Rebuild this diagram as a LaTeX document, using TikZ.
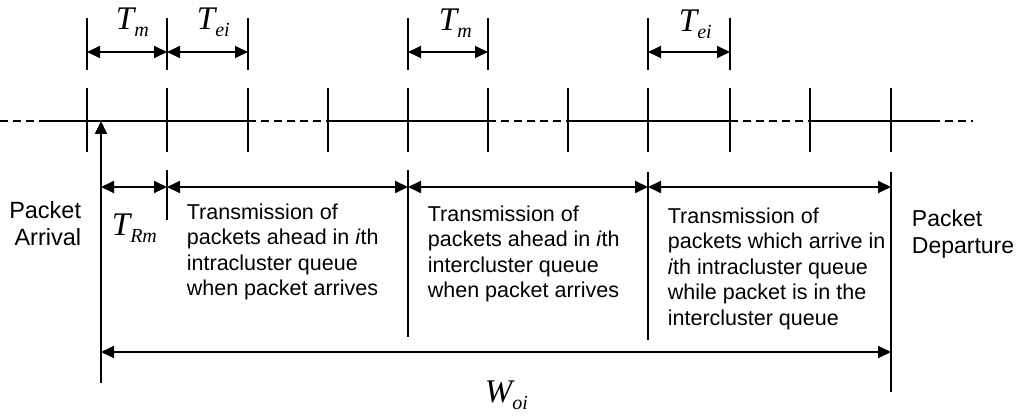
\documentclass[tikz,border=0pt]{standalone}
\usepackage{fontspec}
\setmainfont{Liberation Sans}
\newfontfamily\labfont{Liberation Serif}
\usetikzlibrary{arrows.meta}

\newcommand\dimlab[2]{{\labfont\itshape\fontsize{33}{33}\selectfont #1}\raisebox{-7pt}{\labfont\itshape\fontsize{20}{20}\selectfont #2}}

\begin{document}
\begin{tikzpicture}[x=1pt, y=-1pt,
  line width=1.8pt,
  dim/.style={{Triangle[length=13pt,width=12pt]}-{Triangle[length=13pt,width=12pt]}},
  dimr/.style={-{Triangle[length=13pt,width=12pt]}},
  gap/.style={dash pattern=on 8pt off 5pt},
  txt/.style={font=\fontsize{21.5}{25.5}\selectfont, align=left, anchor=north west, inner sep=0pt},
  lab/.style={anchor=base west, inner sep=0pt}
]
  \useasboundingbox (0,0) rectangle (1020,417);

  % time axis with its ticks
  \foreach \x [count=\i] in {87,167,248,328,408,488,568,648,730,810,891}
    \coordinate (t\i) at (\x,121);
  \coordinate (le) at (0,121);
  \coordinate (ls) at (45,121);
  \coordinate (rs) at (932,121);
  \coordinate (re) at (973,121);
  \draw[gap] (le) -- (ls);
  \draw (ls) -- (t3);
  \draw[gap] (t3) -- (t4);
  \draw (t4) -- (t6);
  \draw[gap] (t6) -- (t7);
  \draw (t7) -- (t9);
  \draw[gap] (t9) -- (t10);
  \draw (t10) -- (rs);
  \draw[gap] (rs) -- (re);
  \foreach \i in {1,...,11}
    \draw ([yshift=33pt]t\i) -- ([yshift=-31pt]t\i);

  % slot widths above the axis
  \coordinate (top) at (0,52);
  \foreach \i in {1,2,3,5,6,8,9}
    \draw (t\i |- 0,18) -- (t\i |- 0,70);
  \draw[dim] (t1 |- top) -- (t2 |- top);
  \draw[dim] (t2 |- top) -- (t3 |- top);
  \draw[dim] (t5 |- top) -- (t6 |- top);
  \draw[dim] (t8 |- top) -- (t9 |- top);
  \node[lab] (tm1) at (115,30) {\dimlab{T}{m}};
  \node[lab] (tei1) at (196,30) {\dimlab{T}{ei}};
  \node[lab] (tm2) at (438,31) {\dimlab{T}{m}};
  \node[lab] (tei2) at (678,32) {\dimlab{T}{ei}};

  % arrival and waiting time below the axis
  \coordinate (arr) at (101,121);
  \coordinate (arrb) at (101,383);
  \coordinate (bot) at (0,187);
  \coordinate (wait) at (0,352);
  \draw[dimr] (arrb) -- (arr);
  \draw (t2 |- 0,170) -- (t2 |- 0,220);
  \draw (t5 |- 0,170) -- (t5 |- 0,337);
  \draw (t8 |- 0,172) -- (t8 |- 0,340);
  \draw (t11 |- 0,172) -- (t11 |- 0,392);
  \draw[dim] (arr |- bot) -- (t2 |- bot);
  \draw[dim] (t2 |- bot) -- (t5 |- bot);
  \draw[dim] (t5 |- bot) -- (t8 |- bot);
  \draw[dim] (t8 |- bot) -- (t11 |- bot);
  \draw[dim] (arr |- wait) -- (t11 |- wait);
  \node[lab] (trm) at (111,235) {\dimlab{T}{Rm}};
  \node[lab] (woi) at (484,402) {\dimlab{W}{oi}};

  \node[txt, align=right, anchor=north east, font=\fontsize{23.5}{27}\selectfont] (pa) at (82,201) {Packet\\Arrival};
  \node[txt, font=\fontsize{23}{26.5}\selectfont] (pd) at (911,209) {Packet\\Departure};
  \node[txt] (q1) at (186,203) {Transmission of\\packets ahead in \textit{i}th\\intracluster queue\\when packet arrives};
  \node[txt] (q2) at (427,205) {Transmission of\\packets ahead in \textit{i}th\\intercluster queue\\when packet arrives};
  \node[txt] (q3) at (667,207) {Transmission of\\packets which arrive in\\\textit{i}th intracluster queue\\while packet is in the\\intercluster queue};
\end{tikzpicture}
\end{document}
